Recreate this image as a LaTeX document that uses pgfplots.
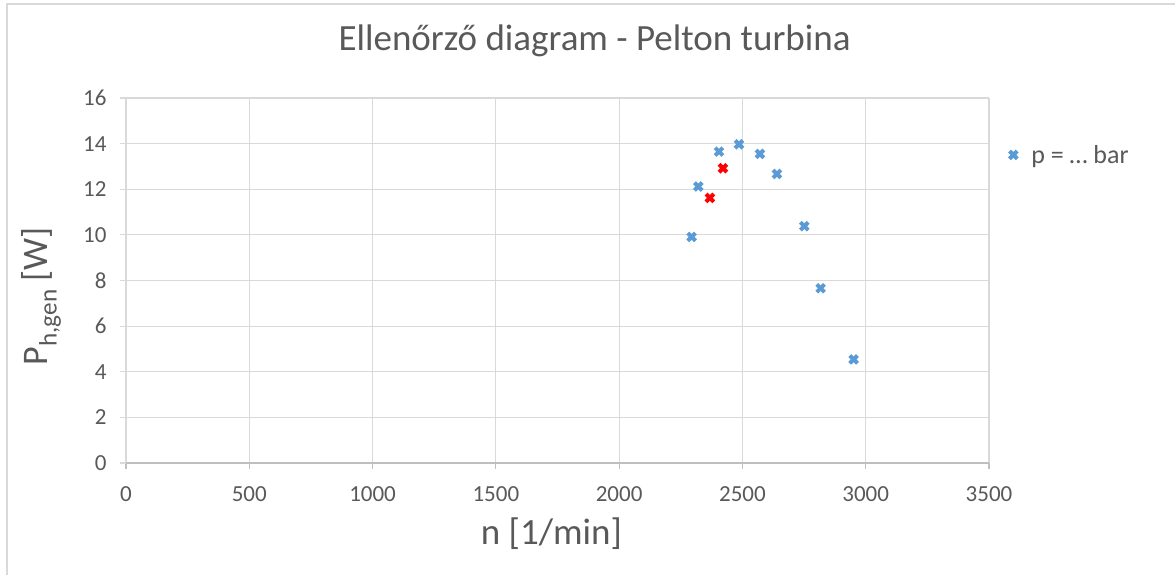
\documentclass[border=0pt]{standalone}
\usepackage{fontspec}
\setmainfont{Carlito}
\usepackage{pgfplots}
\pgfplotsset{compat=1.18}

\definecolor{txtgray}{HTML}{595959}
\definecolor{gridgray}{HTML}{D9D9D9}
\definecolor{axgray}{HTML}{BFBFBF}
\definecolor{ptblue}{HTML}{5B9BD5}
\definecolor{ptred}{HTML}{FF0000}

\begin{document}
\begin{tikzpicture}[x=1pt,y=1pt]
  % page frame, same proportions as the reference
  \useasboundingbox (0,0) rectangle (1175,575);
  \draw[gridgray, line width=1.5pt] (7,0) -- (7,571) -- (1175,571);
  \begin{axis}[
      at={(126pt,112pt)}, anchor=south west,
      scale only axis,
      width=863pt, height=365pt,
      xmin=0, xmax=3500, ymin=0, ymax=16,
      xtick={0,500,...,3500},
      ytick={0,2,...,16},
      /pgf/number format/1000 sep={},
      /pgf/number format/assume math mode=true,
      grid=major,
      major grid style={gridgray, line width=1.2pt},
      axis line style={draw=none},
      tick style={gridgray, line width=1.2pt},
      tick align=outside,
      major tick length=6pt,
      x tick style={axgray},
      axis x line*=bottom,
      x axis line style={draw=axgray, line width=1.2pt},
      axis y line*=left,
      y axis line style={draw=none},
      xtick pos=bottom, ytick pos=left,
      ticklabel style={font=\fontsize{23}{27}\selectfont, text=txtgray},
      xticklabel style={yshift=-14pt},
      yticklabel style={xshift=-10pt},
      title={Ellenőrző diagram - Pelton turbina},
      title style={font=\fontsize{37}{42}\selectfont, text=txtgray,
        at={(axis description cs:0.543,1.115)}, anchor=base},
      xlabel={n [1/min]},
      xlabel style={font=\fontsize{37}{42}\selectfont, text=txtgray,
        at={(axis description cs:0.493,-0.222)}, anchor=base},
      ylabel={P\textsubscript{h,gen} [W]},
      ylabel style={font=\fontsize{36}{42}\selectfont, text=txtgray,
        at={(axis description cs:-0.098,0.457)}, anchor=center},
      legend style={draw=none, fill=none, at={(1.02,0.844)}, anchor=west,
        font=\fontsize{26}{30}\selectfont, text=txtgray,
        /tikz/every odd column/.append style={column sep=12pt}},
      legend cell align=left,
    ]
    \addplot[only marks, mark=x, mark size=5.5pt, color=ptblue,
      mark options={line width=4pt, solid}] coordinates {
      (2294,9.91) (2321,12.12) (2405,13.65) (2486,13.97) (2571,13.55)
      (2640,12.67) (2751,10.38) (2817,7.66) (2951,4.54)
    };
    \addlegendentry{p = … bar}
    \addplot[only marks, mark=x, mark size=5.5pt, color=ptred,
      mark options={line width=4pt, solid}, forget plot] coordinates {
      (2368,11.62) (2421,12.92)
    };
  \end{axis}
\end{tikzpicture}
\end{document}
